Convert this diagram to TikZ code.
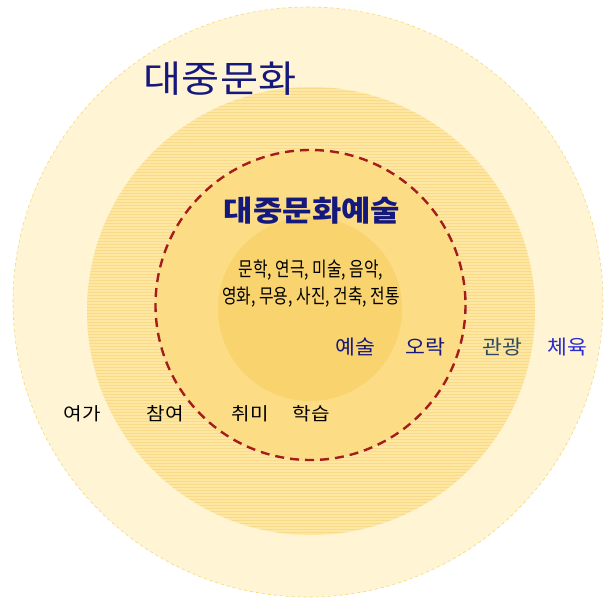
\documentclass[tikz,border=0pt]{standalone}
\usepackage{fontspec}
\newfontfamily\kr{Noto Sans CJK KR}
\definecolor{outerfill}{HTML}{FFF4D3}
\definecolor{outerline}{HTML}{F3D877}
\definecolor{bandfill}{HTML}{FDE7A3}
\definecolor{stripe}{HTML}{F9DA88}
\definecolor{dashfill}{HTML}{FCDD85}
\definecolor{innerfill}{HTML}{F9D46E}
\definecolor{dashred}{HTML}{A51C1C}
\definecolor{navy}{HTML}{15197C}
\definecolor{slate}{HTML}{2E4A60}
\definecolor{brightblue}{HTML}{2B2BD2}
\tikzset{
  x=1pt, y=-1pt,
  lbl/.style={font=\kr\fontsize{18}{18}\selectfont, inner sep=0pt, text=black, xscale=1.12},
  midlbl/.style={font=\kr\fontsize{20}{20}\selectfont, inner sep=0pt, xscale=1.08},
}
\begin{document}
\begin{tikzpicture}
\useasboundingbox (0,0) rectangle (605,600);
\fill[white] (0,0) rectangle (605,600);
% outer circle
\node (outer) [circle, minimum size=590pt, inner sep=0pt, fill=outerfill, draw=outerline, dashed, line width=0.6pt] at (308,302) {};
% band circle with stripes
\node (band) [circle, minimum size=448pt, inner sep=0pt, fill=bandfill] at (311,311) {};
\begin{scope}
\clip (311,311) circle (224);
\foreach \yy in {88,91,...,536} {
  \draw[stripe, line width=0.6pt] (80,\yy) -- (540,\yy);
}
\end{scope}
% dashed circle
\node (dash) [circle, minimum size=310pt, inner sep=0pt, fill=dashfill] at (310.5,305) {};
\node (inner) [circle, minimum size=184pt, inner sep=0pt, fill=innerfill] at (310,309) {};
\draw[dashred, line width=2.4pt, dash pattern=on 9pt off 6pt] (dash.center) circle (155);
% titles
\node (t1) [font=\kr\fontsize{37}{37}\selectfont, text=navy, inner sep=0pt, xscale=1.12] at (220,79) {대중문화};
\node (t2) [font=\kr\bfseries\fontsize{29}{29}\selectfont, text=navy, inner sep=0pt, xscale=1.1] at (312,211) {대중문화예술};
\node (l1) [font=\kr\fontsize{20}{20}\selectfont, inner sep=0pt, xscale=0.79] at (311,270) {문학, 연극, 미술, 음악,};
\node (l2) [font=\kr\fontsize{20}{20}\selectfont, inner sep=0pt, xscale=0.79] at (311,297) {영화, 무용, 사진, 건축, 전통};
% middle row
\node (a1) [midlbl, text=navy] at (355,347) {예술};
\node (a2) [midlbl, text=navy] at (425,347) {오락};
\node (a3) [midlbl, text=slate] at (502,347) {관광};
\node (a4) [midlbl, text=brightblue] at (567,347) {체육};
% bottom row
\node (b1) [lbl] at (82,414) {여가};
\node (b2) [lbl] at (165,414) {참여};
\node (b3) [lbl] at (250,414) {취미};
\node (b4) [lbl] at (311,414) {학습};
\end{tikzpicture}
\end{document}
